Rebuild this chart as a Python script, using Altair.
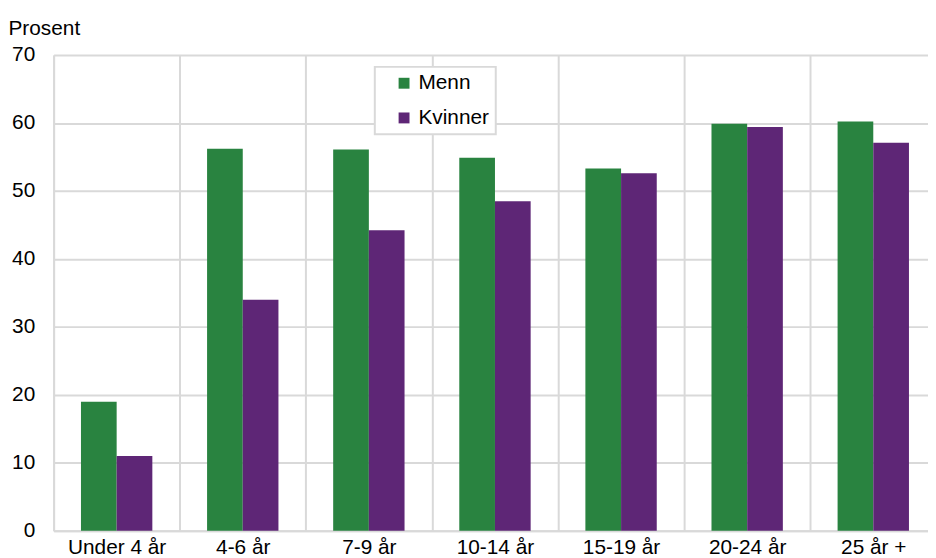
import altair as alt
import pandas as pd

categories = ["Under 4 år", "4-6 år", "7-9 år", "10-14 år", "15-19 år", "20-24 år", "25 år +"]
menn = [19.0, 56.2, 56.1, 54.9, 53.3, 59.9, 60.2]
kvinner = [11.0, 34.0, 44.2, 48.5, 52.6, 59.4, 57.1]
series = ["Menn", "Kvinner"]
colors = ["#298340", "#5e2676"]

rows = []
for c, m, k in zip(categories, menn, kvinner):
    rows.append({"Alder": c, "Kjonn": "Menn", "Prosent": m})
    rows.append({"Alder": c, "Kjonn": "Kvinner", "Prosent": k})
df = pd.DataFrame(rows)

GRID = "#d9d9d9"
FONT = "Liberation Sans"

chart = alt.Chart(df).mark_bar().encode(
    x=alt.X(
        "Alder:N",
        sort=categories,
        scale=alt.Scale(range=[0, 890.4], paddingInner=0, paddingOuter=0),
        axis=alt.Axis(
            title=None, tickBand="extent", grid=True, ticks=False, labelAngle=0,
            labelPadding=6, labelFontSize=21, labelFont=FONT, labelColor="#000000",
            domainColor=GRID, domainWidth=2, gridColor=GRID, gridWidth=2,
        ),
    ),
    xOffset=alt.XOffset("Kjonn:N", sort=series, scale=alt.Scale(paddingInner=0, paddingOuter=0.767)),
    y=alt.Y(
        "Prosent:Q",
        scale=alt.Scale(domain=[0, 70], nice=False),
        axis=alt.Axis(
            values=list(range(0, 80, 10)), title="Prosent", titleAngle=0,
            titleX=-46, titleY=-21, titleAlign="left", titleBaseline="alphabetic",
            titleFontSize=21, titleFont=FONT, titleFontWeight="normal", titleColor="#000000",
            ticks=False, labelPadding=19, labelFontSize=21, labelFont=FONT, labelColor="#000000",
            domainColor=GRID, domainWidth=2, gridColor=GRID, gridWidth=2,
        ),
    ),
    color=alt.Color(
        "Kjonn:N",
        sort=series,
        scale=alt.Scale(domain=series, range=colors),
        legend=alt.Legend(
            title=None, orient="none", legendX=324, legendY=12,
            symbolType="square", symbolSize=121, symbolStrokeWidth=0, symbolOffset=13,
            labelFontSize=21, labelFont=FONT, labelColor="#000000", labelOffset=4,
            labelExpr="datum.label + '   '",
            rowPadding=13, padding=6, strokeColor=GRID, fillColor="#ffffff",
        ),
    ),
).properties(
    width=882,
    height=480,
    autosize=alt.AutoSizeParams(type="none"),
    padding={"left": 46, "top": 45, "right": 0, "bottom": 25},
).configure_view(stroke=None).configure_legend(strokeWidth=2)

chart.save("out.html", embed_options={"renderer": "svg", "actions": False})
